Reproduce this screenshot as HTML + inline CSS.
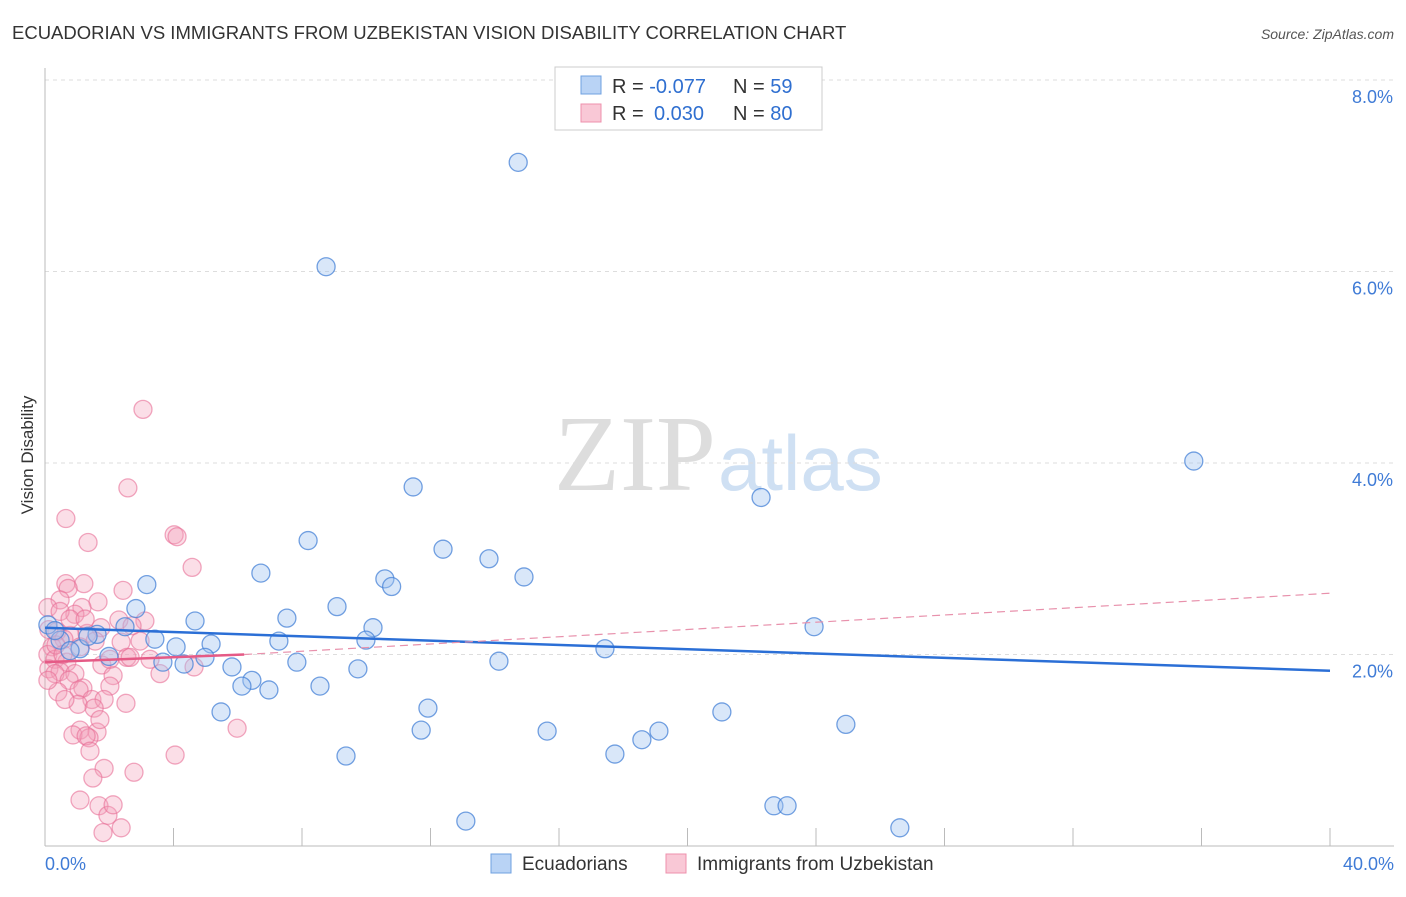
<!DOCTYPE html>
<html><head><meta charset="utf-8"><style>
body{margin:0;background:#fff;font-family:"Liberation Sans",sans-serif}
</style></head><body>
<svg id="c" width="1406" height="892" xmlns="http://www.w3.org/2000/svg">
<text x="12" y="39" font-size="18.5" fill="#333">ECUADORIAN VS IMMIGRANTS FROM UZBEKISTAN VISION DISABILITY CORRELATION CHART</text>
<text x="1394" y="39" font-size="14" fill="#555" font-style="italic" text-anchor="end">Source: ZipAtlas.com</text>
<text x="33" y="455" font-size="17" fill="#333" text-anchor="middle" transform="rotate(-90 33 455)">Vision Disability</text>
<text x="716" y="490" font-size="108" fill="#ddd" text-anchor="end" font-family="Liberation Serif">ZIP</text>
<text x="718" y="490" font-size="78" fill="#cfe0f3">atlas</text>
<g id="grid"></g><g id="pts"></g><g id="lines"></g>
<rect x="555" y="67" width="267" height="63" fill="#fff" stroke="#ccc"/>
<rect x="581" y="76" width="20" height="18" fill="#b9d3f5" stroke="#6fa0e0"/>
<rect x="581" y="104" width="20" height="18" fill="#f9c8d6" stroke="#ee90ac"/>
<text x="612" y="93" font-size="20" fill="#333">R = <tspan fill="#2f6fd0">-0.077</tspan><tspan x="733">N = </tspan><tspan fill="#2f6fd0">59</tspan></text>
<text x="612" y="120" font-size="20" fill="#333">R = <tspan fill="#2f6fd0" x="654">0.030</tspan><tspan x="733">N = </tspan><tspan fill="#2f6fd0">80</tspan></text>
<text x="45" y="870" font-size="18" fill="#3f7bd6">0.0%</text>
<text x="1394" y="870" font-size="18" fill="#3f7bd6" text-anchor="end">40.0%</text>
<rect x="491" y="854" width="20" height="19" fill="#b9d3f5" stroke="#6fa0e0"/>
<text x="522" y="870" font-size="19" fill="#333">Ecuadorians</text>
<rect x="666" y="854" width="20" height="19" fill="#f9c8d6" stroke="#ee90ac"/>
<text x="697" y="870" font-size="19" fill="#333">Immigrants from Uzbekistan</text>
</svg>
<script>
const yTicks=[2,4,6,8];
const yTickLabels=["2.0%","4.0%","6.0%","8.0%"];
const xTicks=[0,4,8,12,16,20,24,28,32,36,40];
const blueX=[14.73,8.75,35.76,11.46,22.29,8.19,12.39,13.82,6.72,10.58,14.91,10.79,3.17,9.09,2.83,4.67,7.53,10.21,2.49,23.94,1.62,3.42,9.99,7.28,4.08,5.17,17.43,0.09,0.47,1.09,1.99,4.98,3.67,4.33,7.84,14.13,5.82,9.74,6.44,6.13,6.97,8.56,5.48,11.92,21.07,11.71,15.63,19.11,24.93,18.58,17.74,9.37,22.69,23.1,13.1,26.61,1.34,0.78,0.31];
const blueY=[7.14,6.05,4.02,3.75,3.64,3.19,3.1,3.0,2.85,2.79,2.81,2.71,2.73,2.5,2.48,2.35,2.38,2.28,2.29,2.29,2.21,2.16,2.15,2.14,2.08,2.11,2.06,2.31,2.15,2.06,1.98,1.97,1.92,1.9,1.92,1.93,1.87,1.85,1.73,1.67,1.63,1.67,1.4,1.44,1.4,1.21,1.2,1.2,1.27,1.11,0.96,0.94,0.42,0.42,0.26,0.19,2.19,2.04,2.25];
const pinkX=[3.05,2.58,0.65,1.34,4.02,4.11,4.58,0.65,1.21,0.72,2.43,0.47,1.65,0.09,1.15,0.93,3.11,2.3,2.71,1.74,0.12,0.37,0.78,1.31,0.59,1.09,2.37,0.22,0.09,0.31,2.55,2.65,0.68,1.77,3.58,4.64,0.12,0.47,0.93,2.12,0.31,0.75,1.18,2.02,1.06,0.4,1.46,1.84,1.03,2.52,1.53,5.98,1.09,0.87,1.62,1.37,1.28,4.05,1.4,2.77,1.84,1.49,1.09,1.68,1.96,2.37,1.806,2.12,0.47,0.78,0.34,0.56,1.56,1.25,2.96,2.02,0.62,1.71,3.27,0.09];
const pinkY=[4.56,3.74,3.42,3.17,3.25,3.23,2.91,2.74,2.74,2.69,2.67,2.57,2.55,2.49,2.49,2.42,2.35,2.36,2.3,2.28,2.26,2.24,2.2,2.22,2.16,2.08,2.13,2.08,2.0,1.95,1.97,1.97,1.92,1.89,1.8,1.87,1.85,1.82,1.8,1.78,1.8,1.73,1.65,1.67,1.63,1.61,1.53,1.53,1.48,1.49,1.44,1.23,1.21,1.16,1.19,1.13,1.15,0.95,0.99,0.77,0.81,0.71,0.48,0.42,0.32,0.19,0.14,0.43,2.45,2.37,2.1,2.0,2.14,2.37,2.14,1.95,1.53,1.32,1.95,1.73];
const X=v=>45+v/40*1285, Y=v=>846-v*95.75;
const ns="http://www.w3.org/2000/svg";
function mk(t,a,p){const e=document.createElementNS(ns,t);for(const k in a)e.setAttribute(k,a[k]);p.appendChild(e);return e;}
const g=document.getElementById('grid');
yTicks.forEach((t,i)=>{
 const l=mk('line',{x1:45,x2:1394,y1:Y(t),y2:Y(t),stroke:'#ddd','stroke-dasharray':'4 4'},g);
 
 
 const tx=mk('text',{x:1393,y:Y(t)+23,'font-size':18,fill:'#3f7bd6','text-anchor':'end'},g);
 tx.textContent=yTickLabels[i];
 
 
});
const ax=mk('line',{x1:45,x2:45,y1:68,y2:846,stroke:'#bbb'},g);


const bx=mk('line',{x1:45,x2:1394,y1:846,y2:846,stroke:'#bbb'},g);


xTicks.forEach(t=>{const l=mk('line',{x1:X(t),x2:X(t),y1:828,y2:846,stroke:'#bbb'},g);
 
 });
const p=document.getElementById('pts');
pinkX.forEach((v,i)=>{const c=mk('circle',{cx:X(v),cy:Y(pinkY[i]),r:9,fill:'rgba(244,160,186,0.35)',stroke:'rgba(232,110,150,0.6)','stroke-width':1.3},p);
 
 });
blueX.forEach((v,i)=>{const c=mk('circle',{cx:X(v),cy:Y(blueY[i]),r:9,fill:'rgba(160,195,240,0.4)',stroke:'rgba(70,130,215,0.75)','stroke-width':1.3},p);
 
 });
const L=document.getElementById('lines');
let e=mk('line',{x1:X(0),y1:Y(2.28),x2:X(40),y2:Y(1.83),stroke:'#2b6fd6','stroke-width':2.5},L);


e=mk('line',{x1:X(6.2),y1:Y(2.0),x2:X(40),y2:Y(2.64),stroke:'#e891ac','stroke-width':1.2,'stroke-dasharray':'8 5'},L);


e=mk('line',{x1:X(0),y1:Y(1.92),x2:X(6.2),y2:Y(2.0),stroke:'#e55a86','stroke-width':2.5},L);


</script>
</body></html>
